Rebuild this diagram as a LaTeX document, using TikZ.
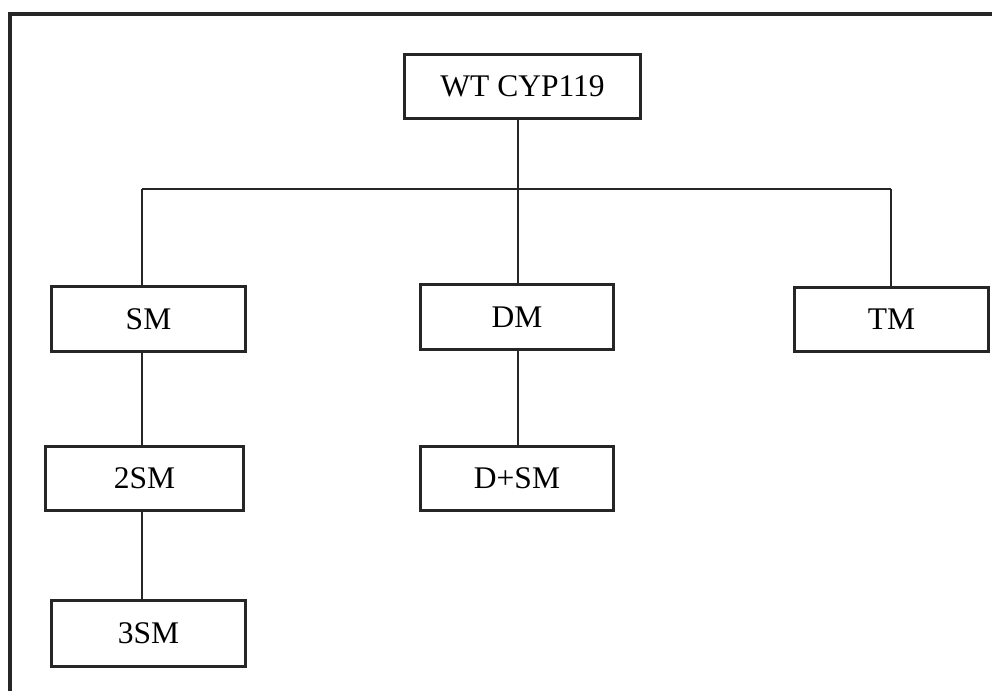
\documentclass[tikz,border=0pt]{standalone}
\usepackage{fontspec}
\setmainfont{Liberation Serif}
\begin{document}
\begin{tikzpicture}[x=1pt,y=-1pt,
  box/.style={draw=black!85, line width=3pt, inner sep=0pt, anchor=center,
    font=\fontsize{31.5}{36}\selectfont},
  link/.style={draw=black!85, line width=2.6pt},
  frame/.style={draw=black!85, line width=4pt}]
\useasboundingbox (0,0) rectangle (992,691);
% frame (top and left edges visible)
\coordinate (fbl) at (9.5,691);
\coordinate (ftl) at (9.5,13.5);
\coordinate (ftr) at (992,13.5);
\draw[frame] (fbl) -- (ftl) -- (ftr);
% boxes
\node[box, minimum width=236pt, minimum height=64pt] (wt) at (522.5,86.5) {WT CYP119};
\node[box, minimum width=194pt, minimum height=65pt] (sm) at (148.5,319) {SM};
\node[box, minimum width=193pt, minimum height=65pt] (dm) at (517,317) {DM};
\node[box, minimum width=194pt, minimum height=64pt] (tm) at (891.5,319.5) {TM};
\node[box, minimum width=198pt, minimum height=64pt] (sm2) at (144.5,478.5) {2SM};
\node[box, minimum width=193pt, minimum height=64pt] (dsm) at (517,478.5) {D+SM};
\node[box, minimum width=194pt, minimum height=66pt] (sm3) at (148.5,633.5) {3SM};
% connectors
\coordinate (bus) at (518,189);
\coordinate (busl) at (142,189);
\coordinate (busr) at (891,189);
\draw[link] (wt.south -| bus) -- (bus);
\draw[link] (busl) -- (busr);
\draw[link] (busl) -- (sm.north -| busl);
\draw[link] (bus) -- (dm.north -| bus);
\draw[link] (busr) -- (tm.north -| busr);
\draw[link] (sm.south -| busl) -- (sm2.north -| busl);
\draw[link] (dm.south -| bus) -- (dsm.north -| bus);
\draw[link] (sm2.south -| busl) -- (sm3.north -| busl);
\end{tikzpicture}
\end{document}
